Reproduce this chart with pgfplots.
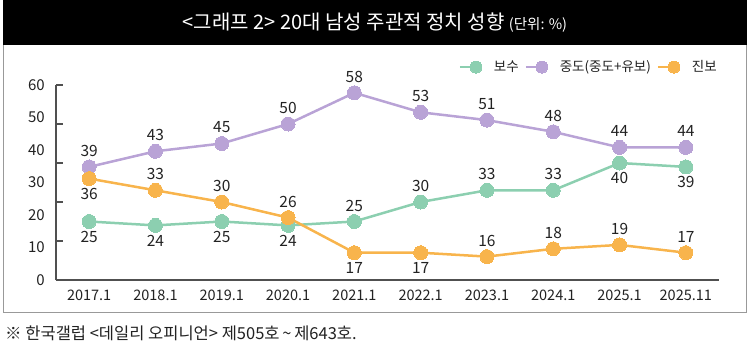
\documentclass[border=0pt]{standalone}
\usepackage{fontspec}
\setmainfont{Noto Sans CJK KR}
\usepackage{pgfplots}
\pgfplotsset{compat=1.18}
\usepackage{pgfplotstable}
\definecolor{cons}{HTML}{8CCFB0}
\definecolor{midc}{HTML}{B9A3D6}
\definecolor{prog}{HTML}{F8B44C}
\definecolor{axisgray}{HTML}{505050}
\definecolor{txt}{HTML}{222222}

% x: 0=2017.1 ... 9=2025.11 ; d: +1 label above, -1 label below
\pgfplotstableread{
x y d
0 25 -1
1 24 -1
2 25 -1
3 24 -1
4 25 1
5 30 1
6 33 1
7 33 1
8 40 -1
9 39 -1
}\tcons
\pgfplotstableread{
x y d
0 39 1
1 43 1
2 45 1
3 50 1
4 58 1
5 53 1
6 51 1
7 48 1
8 44 1
9 44 1
}\tmid
\pgfplotstableread{
x y d
0 36 -1
1 33 1
2 30 1
3 26 1
4 17 -1
5 17 -1
6 16 1
7 18 1
8 19 1
9 17 1
}\tprog

\begin{document}
\begin{tikzpicture}
\useasboundingbox (0,0) rectangle (750bp,351bp);
\draw[color=black!40, line width=1bp] (3.5bp,38bp) rectangle (746.5bp,306bp);
\fill[black] (3bp,305.5bp) rectangle (747bp,350.5bp);
\node[anchor=base, inner sep=0pt, text=white, font=\fontsize{20bp}{22bp}\selectfont] at (375bp,321.5bp)
  {<그래프 2> 20대 남성 주관적 정치 성향 {\fontsize{14.5bp}{16bp}\selectfont(단위: \%)}};
\node[anchor=base west, inner sep=0pt, text=txt, font=\fontsize{16.5bp}{18bp}\selectfont] at (5bp,12bp)
  {※ 한국갤럽 <데일리 오피니언> 제505호\,\textasciitilde\,제643호.};

\begin{axis}[
  at={(56bp,71bp)}, anchor=south west,
  scale only axis, width=663bp, height=195bp,
  xmin=-0.5, xmax=9.5, ymin=10, ymax=60,
  clip=false,
  axis lines*=left,
  axis line style={draw=axisgray, line width=1.2bp},
  /pgf/number format/assume math mode=true,
  xtick={0,...,9},
  xticklabels={2017.1,2018.1,2019.1,2020.1,2021.1,2022.1,2023.1,2024.1,2025.1,2025.11},
  x tick style={draw=none},
  xticklabel style={anchor=base, yshift=-20.5bp, inner sep=0pt, text=txt, font=\fontsize{14.5bp}{16bp}\selectfont},
  ytick={10,20,30,40,50,60},
  yticklabels={,,,,,},
  tick align=inside,
  major tick length=7bp,
  y tick style={draw=axisgray, line width=1.2bp},
  extra y ticks={10,18.3333,26.6667,35,43.3333,51.6667,60},
  extra y tick labels={0,10,20,30,40,50,60},
  extra y tick style={major tick length=0pt},
  yticklabel style={anchor=east, inner sep=0pt, xshift=-11bp, text=txt, font=\fontsize{15bp}{17bp}\selectfont},
  legend columns=3,
  legend style={at={(0.997,1.092)}, anchor=east, draw=none, fill=none, inner sep=0pt,
    font=\fontsize{13.5bp}{15bp}\selectfont, text=txt,
    nodes={inner sep=0pt},
    /tikz/every even column/.append style={column sep=6bp},
    /tikz/every odd column/.append style={column sep=12bp}},
  legend image code/.code={%
    \draw[#1, mark=none, line width=2bp] (0bp,0bp) -- (16bp,0bp);
    \draw[#1, mark size=6bp] plot coordinates {(16bp,0bp)};},
  every axis plot/.append style={line width=2.5bp, mark=*, mark size=7bp},
  nodes near coords,
  visualization depends on={\thisrow{d} \as \labdir},
  every node near coord/.append style={anchor=center, inner sep=0pt, text=txt,
    font=\fontsize{15.5bp}{17bp}\selectfont, yshift={\labdir*15.5bp+0.5bp}},
]
\addplot[color=cons, mark options={draw=cons, fill=cons, line width=0pt}] table[x=x, y=y] {\tcons};
\addlegendentry{보수}
\addplot[color=midc, mark options={draw=midc, fill=midc, line width=0pt}] table[x=x, y=y] {\tmid};
\addlegendentry{중도(중도+유보)}
\addplot[color=prog, mark options={draw=prog, fill=prog, line width=0pt}] table[x=x, y=y] {\tprog};
\addlegendentry{진보}
\end{axis}
\end{tikzpicture}
\end{document}
